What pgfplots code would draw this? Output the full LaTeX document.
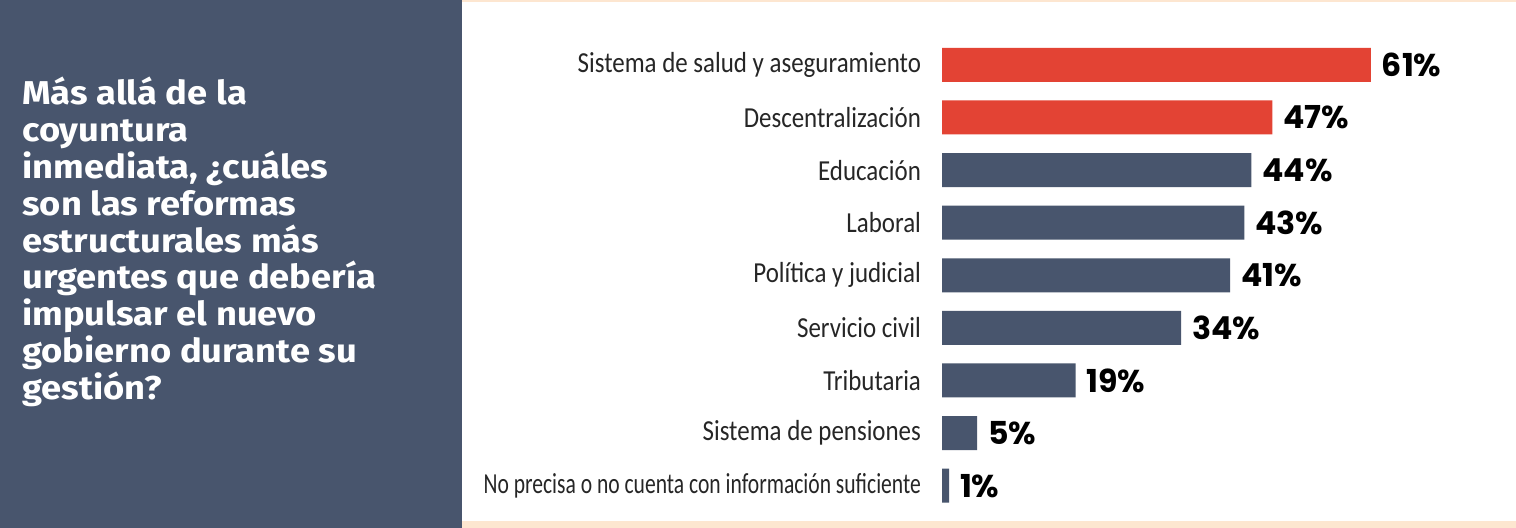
\documentclass[border=0pt]{standalone}
\usepackage{fontspec}
\usepackage{graphicx}
\usepackage{pgfplots}
\pgfplotsset{compat=1.18}
\newfontfamily\labfont{Carlito}[FakeStretch=0.86]
\newfontfamily\fira{Fira Sans}[FakeStretch=1.1]
\newfontfamily\popb{Poppins}[UprightFont=* Bold]
\definecolor{slate}{RGB}{72,85,109}
\definecolor{redbar}{RGB}{227,67,52}
\definecolor{peach}{RGB}{253,230,208}
\begin{document}
\begin{tikzpicture}
\useasboundingbox (0,0) rectangle (758pt,264pt);
\fill[white] (0,0) rectangle (758pt,264pt);
\fill[slate] (0,0) rectangle (231pt,264pt);
\fill[peach] (231pt,263pt) rectangle (758pt,264pt);
\fill[peach] (231pt,0) rectangle (758pt,3.5pt);
\node[anchor=base west, inner sep=0pt, text=white, font=\fira\bfseries\fontsize{16.5}{18.4}\selectfont] at (11pt,211.5pt)
 {\vtop{\baselineskip=18.4pt\lineskiplimit=-100pt
  \hbox{Más allá de la}\hbox{coyuntura}\hbox{inmediata, ¿cuáles}\hbox{son las reformas}\hbox{estructurales más}\hbox{urgentes que debería}\hbox{impulsar el nuevo}\hbox{gobierno durante su}\hbox{gestión?}}};
\begin{axis}[
  at={(471pt,21.15pt)}, anchor=origin,
  x=3.515pt, y=26.3pt,
  xbar, bar width=17pt, bar shift=0pt,
  xmin=0, xmax=65, ymin=-0.6, ymax=8.6,
  axis line style={draw=none}, xtick=\empty,
  ytick={0,...,8},
  yticklabels={{\scalebox{0.865}[1]{No precisa o no cuenta con información suficiente}},Sistema de pensiones,Tributaria,Servicio civil,Política y judicial,Laboral,Educación,Descentralización,Sistema de salud y aseguramiento},
  major tick length=0pt,
  yticklabel style={font=\labfont\fontsize{14.5}{16}\selectfont, text=black!85, xshift=-7pt},
  point meta=x,
  /pgf/number format/assume math mode=true,
  nodes near coords={\pgfmathprintnumber{\pgfplotspointmeta}\%},
  every node near coord/.append style={font=\popb\fontsize{15.8}{17}\selectfont, text=black, anchor=west, xshift=2pt},
  clip=false,
]
\addplot[draw=none, fill=redbar] coordinates {(61,8) (47,7)};
\addplot[draw=none, fill=slate] coordinates {(44,6) (43,5) (41,4) (34,3) (19,2) (5,1) (1,0)};
\end{axis}
\end{tikzpicture}
\end{document}
